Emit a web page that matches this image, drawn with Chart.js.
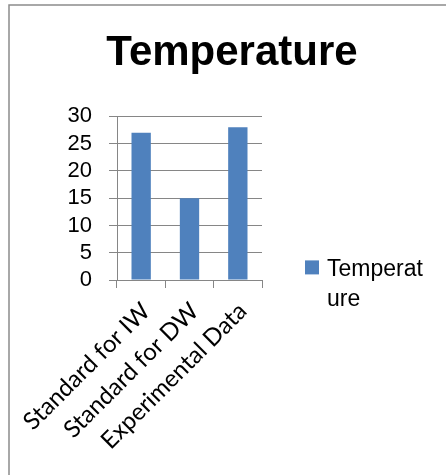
<!DOCTYPE html>
<html><head><meta charset="utf-8">
<script src="https://cdn.jsdelivr.net/npm/chart.js@4.4.1/dist/chart.umd.min.js"></script>
<style>html,body{margin:0;padding:0;background:#fff;}canvas{display:block;}</style>
</head><body>
<canvas id="c" width="446" height="475"></canvas>
<script>
const chartTitle = 'Temperature';
const categories = ['Standard for IW', 'Standard for DW', 'Experimental Data'];
const seriesName = 'Temperature';
const temperatureValues = [27, 15, 28];
const yTickValues = [0, 5, 10, 15, 20, 25, 30];

const GRID = '#868686';
const BAR = '#4f81bd';
const SANS = '"Liberation Sans", Arial, sans-serif';

const framePlugin = {
  id: 'frame',
  beforeDraw(chart) {
    const c = chart.ctx;
    c.save();
    c.fillStyle = '#fff';
    c.fillRect(0, 0, chart.width, chart.height);
    c.strokeStyle = '#8c8c8c';
    c.lineWidth = 1.5;
    c.strokeRect(9, 5, chart.width + 20, chart.height + 20);
    c.restore();
  }
};

const wrappedLegend = {
  id: 'wrappedLegend',
  afterDraw(chart) {
    const ctx = chart.ctx, a = chart.chartArea;
    const ds = chart.data.datasets[0];
    const x0 = a.right + 43, y0 = a.top + 144;
    ctx.save();
    ctx.fillStyle = ds.backgroundColor;
    ctx.fillRect(x0, y0, 14, 14);
    ctx.font = '23px ' + SANS;
    ctx.fillStyle = '#000';
    ctx.textBaseline = 'alphabetic';
    ctx.textAlign = 'left';
    const maxW = 104, lines = [];
    let cur = '';
    for (const ch of ds.label) {
      if (cur && ctx.measureText(cur + ch).width > maxW) { lines.push(cur); cur = ch; }
      else cur += ch;
    }
    lines.push(cur);
    lines.forEach((l, i) => ctx.fillText(l, x0 + 22, y0 + 16 + i * 30));
    ctx.restore();
  }
};

new Chart(document.getElementById('c'), {
  type: 'bar',
  data: {
    labels: categories,
    datasets: [{
      label: seriesName,
      data: temperatureValues,
      backgroundColor: BAR,
      borderWidth: 0,
      categoryPercentage: 1,
      barPercentage: 0.4
    }]
  },
  options: {
    responsive: false,
    animation: false,
    events: [],
    layout: { padding: { left: 18, right: 0, top: 0, bottom: 0 } },
    plugins: {
      legend: { display: false },
      tooltip: { enabled: false },
      title: {
        display: true,
        text: chartTitle,
        color: '#000',
        font: { family: SANS, size: 42, weight: 'bold' },
        padding: { top: 28, bottom: 38 }
      }
    },
    scales: {
      x: {
        grid: { drawOnChartArea: false, drawTicks: true, tickLength: 8, color: GRID, offset: true },
        border: { display: true, color: GRID, width: 1 },
        ticks: {
          color: '#000',
          font: { family: 'Lato, "Open Sans", sans-serif', size: 24 },
          minRotation: 45, maxRotation: 45, padding: 9, labelOffset: 5, autoSkip: false
        },
        afterFit(scale) { scale.height = 195; scale.paddingLeft = 0; scale.paddingRight = 0; }
      },
      y: {
        min: 0, max: 30,
        afterBuildTicks(scale) { scale.ticks = yTickValues.map(v => ({ value: v })); },
        grid: { color: GRID, tickLength: 8, drawTicks: true },
        border: { display: true, color: GRID, width: 1 },
        ticks: { color: '#000', font: { family: SANS, size: 22 }, padding: 17, autoSkip: false },
        afterFit(scale) { scale.width = 99; }
      },
      yRight: {
        position: 'right',
        display: true,
        grid: { display: false, drawTicks: false },
        border: { display: false },
        ticks: { display: false },
        afterFit(scale) { scale.width = 184; }
      }
    }
  },
  plugins: [framePlugin, wrappedLegend]
});
</script>
</body></html>
